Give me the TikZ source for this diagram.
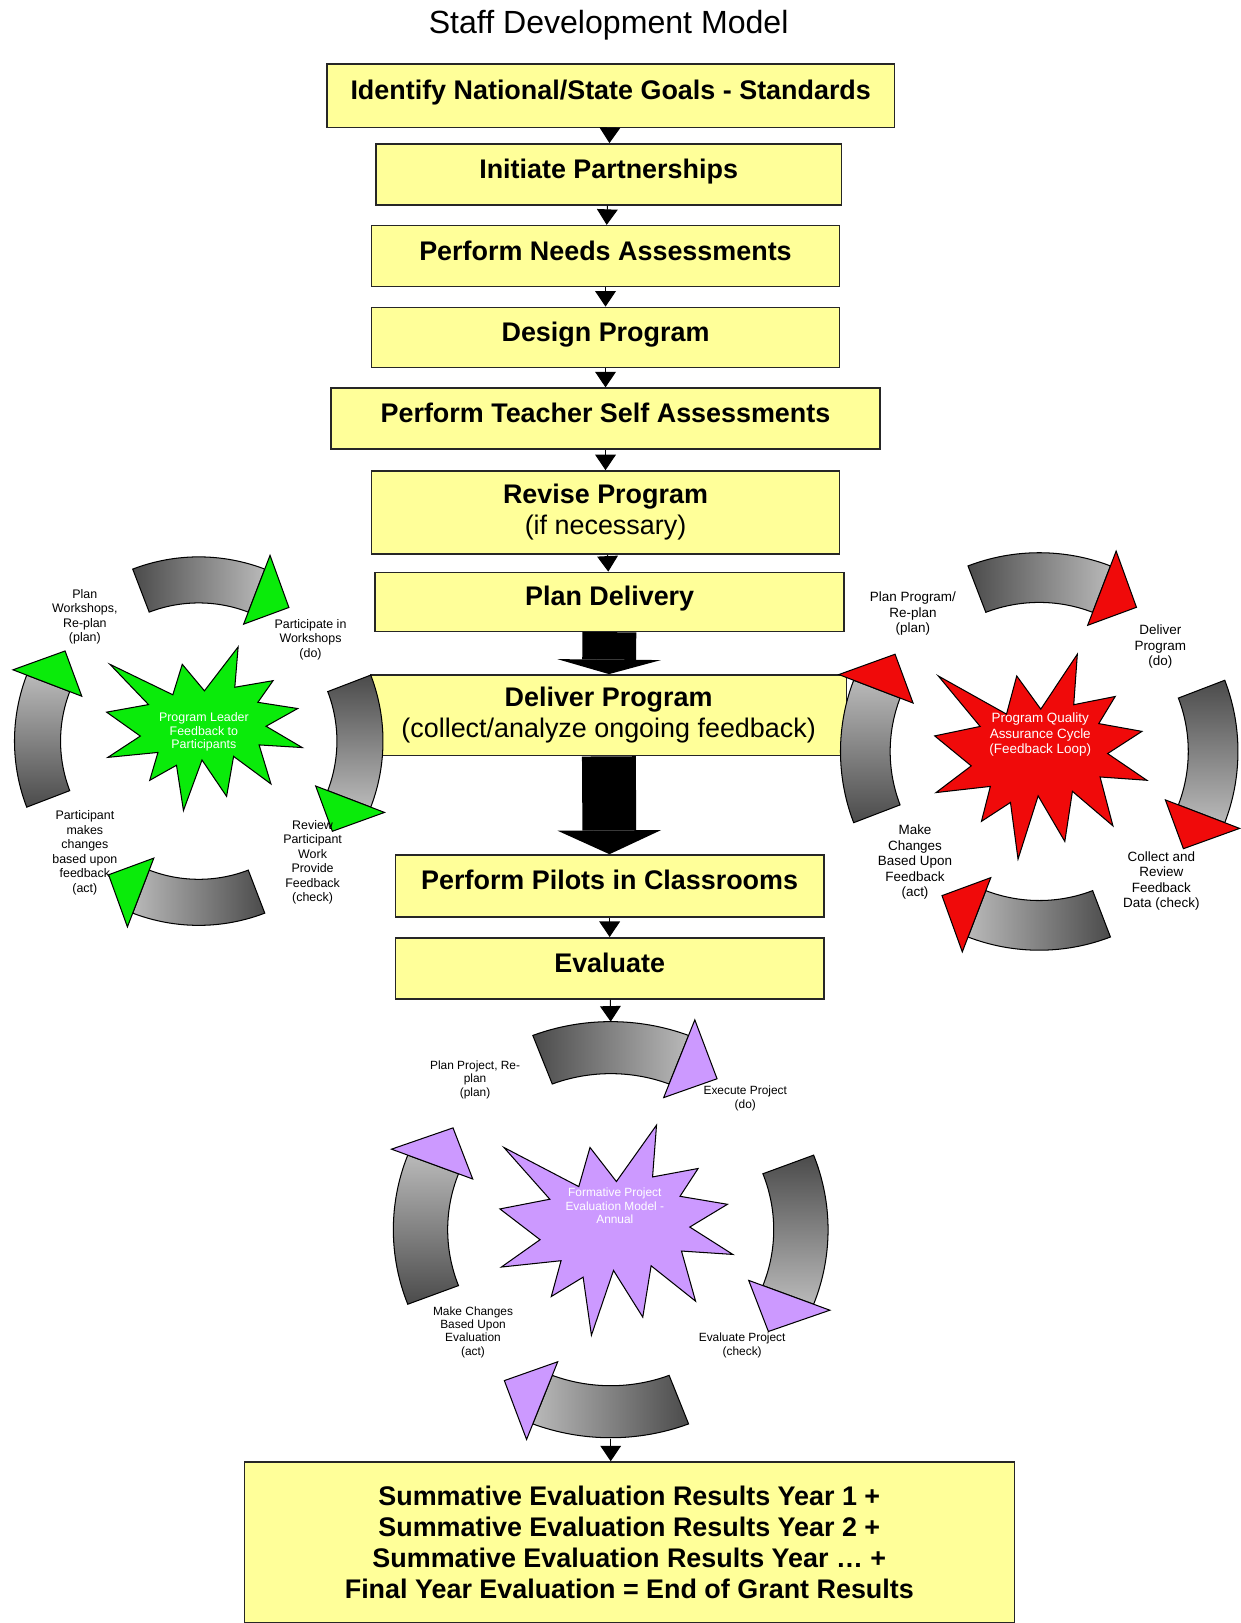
\documentclass[tikz,border=0pt]{standalone}
\usepackage{fontspec}
\setmainfont{Liberation Sans}
\usetikzlibrary{arrows.meta,positioning}
\definecolor{boxfill}{RGB}{255,255,153}
\definecolor{cycgreen}{RGB}{10,235,10}
\definecolor{cycred}{RGB}{240,10,10}
\definecolor{cycpurple}{RGB}{204,153,255}
\definecolor{arcdark}{RGB}{75,75,75}
\definecolor{arclight}{RGB}{185,185,185}

% quarter of a cycle on the unit circle: #1 mid angle, #2 shading, #3 head colour
\newcommand{\cycpart}[3]{%
  \draw[line width=1pt,#2] (#1+21:1) arc[start angle=#1+21, end angle=#1-21, radius=1]
    -- (#1-21:0.75) arc[start angle=#1-21, end angle=#1+21, radius=0.75] -- cycle;
  \draw[line width=1pt,fill=#3] (#1-21:0.68) -- (#1-21:1.08) -- (#1-34:0.875) -- cycle;
}
% explosion outline in a 100 x 100 box
\newcommand{\burst}[1]{%
  \draw[line width=1pt,fill=#1] (50,26.85) -- (67.23,0) -- (65.53,24.65) -- (85.09,20.63)
    -- (77.32,33.87) -- (97.67,37.67) -- (81.51,48.50) -- (100,61.53) -- (77.95,59.92)
    -- (84.00,83.77) -- (64.91,66.93) -- (61.33,91.38) -- (48.76,69.14) -- (39.28,100)
    -- (35.72,72.35) -- (22.05,81.56) -- (26.24,64.52) -- (0.63,67.53) -- (17.23,54.51)
    -- (0,39.88) -- (21.42,35.26) -- (1.71,10.63) -- (33.85,29.26) -- (38.67,10.63) -- cycle;
}

\begin{document}
\begin{tikzpicture}[x=1pt,y=-1pt,
    stepbox/.style={draw=black!85, line width=1.5pt, fill=boxfill, inner sep=0pt,
      font=\fontsize{26}{30}\selectfont\bfseries, align=center},
    onerow/.style={text height=19pt, text depth=11.4pt},
    steparrow/.style={line width=1pt, -{Triangle[length=15pt,width=20pt]}},
    bigarrow/.style={line width=52pt, -{Triangle[length=#1,width=100pt,line width=0pt]}},
    cyctext/.style={align=center, inner sep=0pt, font=\fontsize{12}{14}\selectfont},
    bursttext/.style={align=center, inner sep=0pt, text=white, font=\fontsize{12}{13.5}\selectfont}]
  \path[use as bounding box, fill=white] (0,0) rectangle (1198,1568);

  \node[font=\fontsize{31}{36}\selectfont] (title) at (588,24) {Staff Development Model};

  % main chain of steps
  \node[stepbox, onerow, minimum width=548, minimum height=61] (b1) at (590,92.5) {Identify National/State Goals - Standards};
  \node[stepbox, onerow, minimum width=450, minimum height=59] (b2) at (588,168.5) {Initiate Partnerships};
  \node[stepbox, onerow, minimum width=452, minimum height=59] (b3) at (585,247.5) {Perform Needs Assessments};
  \node[stepbox, onerow, minimum width=452, minimum height=58] (b4) at (585,326) {Design Program};
  \node[stepbox, onerow, minimum width=530, minimum height=59] (b5) at (585,404.5) {Perform Teacher Self Assessments};
  \node[stepbox, minimum width=452, minimum height=80] (b6) at (585,495) {Revise Program\\{\mdseries (if necessary)}};
  \node[stepbox, onerow, minimum width=453, minimum height=57] (b7) at (589,581.5) {Plan Delivery};
  \node[stepbox, minimum width=460, minimum height=78] (b8) at (588,691) {Deliver Program\\{\mdseries (collect/analyze ongoing feedback)}};
  \node[stepbox, onerow, minimum width=414, minimum height=60] (b9) at (589,856) {Perform Pilots in Classrooms};
  \node[stepbox, onerow, minimum width=414, minimum height=59] (b10) at (589,935.5) {Evaluate};
  \node[stepbox, minimum width=744, minimum height=155] (b11) at (608,1490) {Summative Evaluation Results Year 1 +\\Summative Evaluation Results Year 2 +\\Summative Evaluation Results Year \dots\ +\\Final Year Evaluation = End of Grant Results};

  \coordinate (ptop) at (590,987);
  \coordinate (pbot) at (590,1390);

  \draw[steparrow] (b1) -- (b2);
  \draw[steparrow] (b2) -- (b3);
  \draw[steparrow] (b3) -- (b4);
  \draw[steparrow] (b4) -- (b5);
  \draw[steparrow] (b5) -- (b6);
  \draw[steparrow] (b6) -- (b7);
  \draw[bigarrow=14pt] (b7) -- (b8);
  \draw[bigarrow=23pt] (b8) -- (b9);
  \draw[steparrow] (b9) -- (b10);
  \draw[steparrow] (b10) -- (ptop);
  \draw[steparrow] (pbot) -- (pbot |- b11.north);

  % green cycle
  \begin{scope}[shift={(192,716)}, x=178pt, y=178pt]
    \cycpart{90}{left color=arcdark, right color=arclight}{cycgreen}
    \cycpart{0}{top color=arcdark, bottom color=arclight}{cycgreen}
    \cycpart{-90}{left color=arclight, right color=arcdark}{cycgreen}
    \cycpart{180}{top color=arclight, bottom color=arcdark}{cycgreen}
  \end{scope}
  \begin{scope}[shift={(103,625)}, x=1.89pt, y=-1.58pt]
    \burst{cycgreen}
  \end{scope}
  \node[bursttext] (gcore) at (197,707) {Program Leader\\Feedback to\\Participants};
  \node[cyctext] (gplan) at (82,596) {Plan\\Workshops,\\Re-plan\\(plan)};
  \node[cyctext] (gdo) at (300,618) {Participate in\\Workshops\\(do)};
  \node[cyctext] (gcheck) at (302,833) {Review\\Participant\\Work\\Provide\\Feedback\\(check)};
  \node[cyctext] (gact) at (82,824) {Participant\\makes\\changes\\based upon\\feedback\\(act)};

  % red cycle
  \begin{scope}[shift={(1004,726)}, x=192pt, y=192pt]
    \cycpart{90}{left color=arcdark, right color=arclight}{cycred}
    \cycpart{0}{top color=arcdark, bottom color=arclight}{cycred}
    \cycpart{-90}{left color=arclight, right color=arcdark}{cycred}
    \cycpart{180}{top color=arclight, bottom color=arcdark}{cycred}
  \end{scope}
  \begin{scope}[shift={(903,632)}, x=2.05pt, y=-1.98pt]
    \burst{cycred}
  \end{scope}
  \node[bursttext, font=\fontsize{13}{15}\selectfont] (rcore) at (1005,710) {Program Quality\\Assurance Cycle\\(Feedback Loop)};
  \node[cyctext, font=\fontsize{13}{15}\selectfont] (rplan) at (882,593) {Plan Program/\\Re-plan\\(plan)};
  \node[cyctext, font=\fontsize{13}{15}\selectfont] (rdo) at (1121,625) {Deliver\\Program\\(do)};
  \node[cyctext, font=\fontsize{13}{15}\selectfont] (rcheck) at (1122,851) {Collect and\\Review\\Feedback\\Data (check)};
  \node[cyctext, font=\fontsize{13}{15}\selectfont] (ract) at (884,833) {Make\\Changes\\Based Upon\\Feedback\\(act)};

  % purple cycle
  \begin{scope}[shift={(590,1188)}, x=210pt, y=201pt]
    \cycpart{90}{left color=arcdark, right color=arclight}{cycpurple}
    \cycpart{0}{top color=arcdark, bottom color=arclight}{cycpurple}
    \cycpart{-90}{left color=arclight, right color=arcdark}{cycpurple}
    \cycpart{180}{top color=arclight, bottom color=arcdark}{cycpurple}
  \end{scope}
  \begin{scope}[shift={(483,1087)}, x=2.25pt, y=-2.03pt]
    \burst{cycpurple}
  \end{scope}
  \node[bursttext, font=\fontsize{11.5}{13}\selectfont] (pcore) at (594,1165) {Formative Project\\Evaluation Model -\\Annual};
  \node[cyctext, font=\fontsize{11.5}{13}\selectfont] (pplan) at (459,1043) {Plan Project, Re-\\plan\\(plan)};
  \node[cyctext, font=\fontsize{11.5}{13}\selectfont] (pdo) at (720,1061) {Execute Project\\(do)};
  \node[cyctext, font=\fontsize{11.5}{13}\selectfont] (pcheck) at (717,1300) {Evaluate Project\\(check)};
  \node[cyctext, font=\fontsize{11.5}{13}\selectfont] (pact) at (457,1287) {Make Changes\\Based Upon\\Evaluation\\(act)};
\end{tikzpicture}
\end{document}
